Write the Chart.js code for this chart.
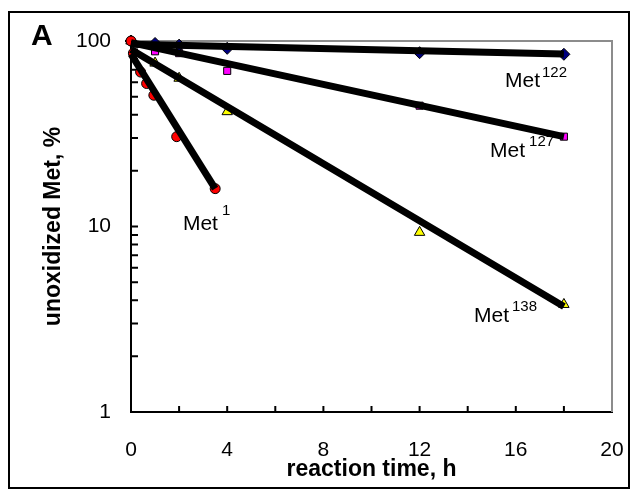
<!DOCTYPE html>
<html>
<head>
<meta charset="utf-8">
<script src="https://cdn.jsdelivr.net/npm/chart.js@4.4.1/dist/chart.umd.min.js"></script>
<style>
  body { margin: 0; background: #fff; }
</style>
</head>
<body>
<canvas id="oxChart" width="632" height="491"></canvas>
<script>
// measured points (time h, % unoxidized Met)
const met1Times = [0, 0.1, 0.4, 0.65, 0.95, 1.9, 3.5];
const met1Vals = [100, 86, 68, 59, 51, 30.5, 16];
const met122Times = [0, 1, 2, 4, 12, 18];
const met122Vals = [100, 97, 95, 91.3, 86.5, 84.8];
const met127Times = [0, 1, 2, 4, 12, 18];
const met127Vals = [100, 88, 86, 69, 44.8, 30.5];
const met138Times = [0, 1, 2, 4, 12, 18];
const met138Vals = [100, 76, 63, 41.6, 9.3, 3.8];

// fitted lines (end points)
const fit1 = [[0, 85], [3.5, 16]];
const fit122 = [[0, 96], [18, 85]];
const fit127 = [[0, 98], [18, 30.5]];
const fit138 = [[0, 90], [18, 3.7]];

const xTickValues = [0, 2, 4, 6, 8, 10, 12, 14, 16, 18, 20];
const yTickValues = [1, 2, 3, 4, 5, 6, 7, 8, 9, 10, 20, 30, 40, 50, 60, 70, 80, 90, 100];
const yLabelled = [1, 10, 100];

// series labels: name, superscript, position in data units
const seriesLabels = [
    { text: 'Met', sup: '122', x: 15.55, y: 56.5, gap: 2, rise: 10 },
    { text: 'Met', sup: '127', x: 14.93, y: 23.7, gap: 4, rise: 11 },
    { text: 'Met', sup: '1', x: 2.16, y: 9.57, gap: 4, rise: 15 },
    { text: 'Met', sup: '138', x: 14.26, y: 3.06, gap: 3, rise: 11 }
];

const FONT = '"Liberation Sans", Arial, sans-serif';

function pts(xs, ys) {
    return xs.map((t, i) => ({ x: t, y: ys[i] }));
}
function fitPts(f) {
    return f.map(p => ({ x: p[0], y: p[1] }));
}

function fitSet(f) {
    return {
        data: fitPts(f),
        borderColor: '#000',
        borderWidth: 7,
        pointRadius: 0,
        showLine: true,
        order: 0,
        clip: false
    };
}
function markerSet(data, style, color, r) {
    return {
        data: data,
        showLine: false,
        pointStyle: style,
        pointRadius: r,
        pointBackgroundColor: color,
        pointBorderColor: '#000',
        pointBorderWidth: 1,
        order: 1,
        clip: false
    };
}

const framePlugin = {
    id: 'frame',
    beforeDatasetsDraw(chart) {
        const { ctx, chartArea: a } = chart;
        ctx.save();
        // gray box on top and right of the plot
        ctx.strokeStyle = '#8c8c8c';
        ctx.lineWidth = 2;
        ctx.beginPath();
        ctx.moveTo(a.left, a.top);
        ctx.lineTo(a.right, a.top);
        ctx.lineTo(a.right, a.bottom);
        ctx.stroke();
        // inside tick marks
        const { x, y } = chart.scales;
        ctx.strokeStyle = '#000';
        ctx.beginPath();
        x.ticks.forEach(t => {
            if (t.value <= 0 || t.value >= 20) return;
            const px = x.getPixelForValue(t.value);
            ctx.moveTo(px, a.bottom);
            ctx.lineTo(px, a.bottom - 6);
        });
        y.ticks.forEach(t => {
            if (t.value <= 1 || t.value >= 100) return;
            const py = y.getPixelForValue(t.value);
            ctx.moveTo(a.left, py);
            ctx.lineTo(a.left + 7, py);
        });
        ctx.stroke();
        ctx.restore();
    },
    afterDraw(chart) {
        const { ctx } = chart;
        ctx.save();
        // outer frame
        ctx.strokeStyle = '#000';
        ctx.lineWidth = 2;
        ctx.strokeRect(9, 12, 620, 476);
        // panel letter
        ctx.fillStyle = '#000';
        ctx.font = 'bold 30px ' + FONT;
        ctx.textBaseline = 'alphabetic';
        ctx.fillText('A', 31, 45);
        // series labels
        const { x, y } = chart.scales;
        seriesLabels.forEach(l => {
            const px = x.getPixelForValue(l.x);
            const py = y.getPixelForValue(l.y);
            ctx.font = '21px ' + FONT;
            ctx.fillText(l.text, px, py);
            const w = ctx.measureText(l.text).width;
            ctx.font = '15px ' + FONT;
            ctx.fillText(l.sup, px + w + l.gap, py - l.rise);
        });
        ctx.restore();
    }
};

const ctx = document.getElementById('oxChart').getContext('2d');
new Chart(ctx, {
    type: 'scatter',
    data: {
        datasets: [
            fitSet(fit1),
            fitSet(fit122),
            fitSet(fit127),
            fitSet(fit138),
            markerSet(pts(met1Times, met1Vals), 'circle', '#ff0000', 5),
            markerSet(pts(met122Times, met122Vals), 'rectRot', '#000080', 6),
            markerSet(pts(met127Times, met127Vals), 'rect', '#ff00ff', 5),
            markerSet(pts(met138Times, met138Vals), 'triangle', '#ffff00', 6)
        ]
    },
    options: {
        responsive: false,
        animation: false,
        layout: { padding: { left: 0, right: 20, top: 41, bottom: 0 } },
        plugins: {
            legend: { display: false },
            tooltip: { enabled: false }
        },
        scales: {
            x: {
                type: 'linear',
                min: 0,
                max: 20,
                afterBuildTicks: s => { s.ticks = xTickValues.map(v => ({ value: v })); },
                afterFit: s => {
                    s.height = 79;
                    s.paddingLeft = 0;
                    s.paddingRight = 0;
                },
                grid: { display: false },
                border: { color: '#000', width: 2 },
                ticks: {
                    autoSkip: false,
                    maxRotation: 0,
                    padding: 18,
                    color: '#000',
                    font: { family: FONT, size: 21 },
                    callback: v => (v % 4 === 0 ? String(v) : '')
                },
                title: {
                    display: true,
                    text: 'reaction time, h',
                    color: '#000',
                    font: { family: FONT, size: 23, weight: 'bold' },
                    padding: { top: 0, bottom: 8 }
                }
            },
            y: {
                type: 'logarithmic',
                min: 1,
                max: 100,
                afterBuildTicks: s => { s.ticks = yTickValues.map(v => ({ value: v })); },
                afterFit: s => {
                    s.width = 131;
                    s.paddingTop = 0;
                    s.paddingBottom = 0;
                },
                grid: { display: false },
                border: { color: '#000', width: 2 },
                ticks: {
                    autoSkip: false,
                    padding: 12,
                    color: '#000',
                    font: { family: FONT, size: 21 },
                    callback: v => (yLabelled.includes(v) ? String(v) : '')
                },
                title: {
                    display: true,
                    text: 'unoxidized Met, %',
                    color: '#000',
                    font: { family: FONT, size: 23, weight: 'bold' },
                    padding: { top: 40, bottom: 0 }
                }
            }
        }
    },
    plugins: [framePlugin]
});
</script>
</body>
</html>
